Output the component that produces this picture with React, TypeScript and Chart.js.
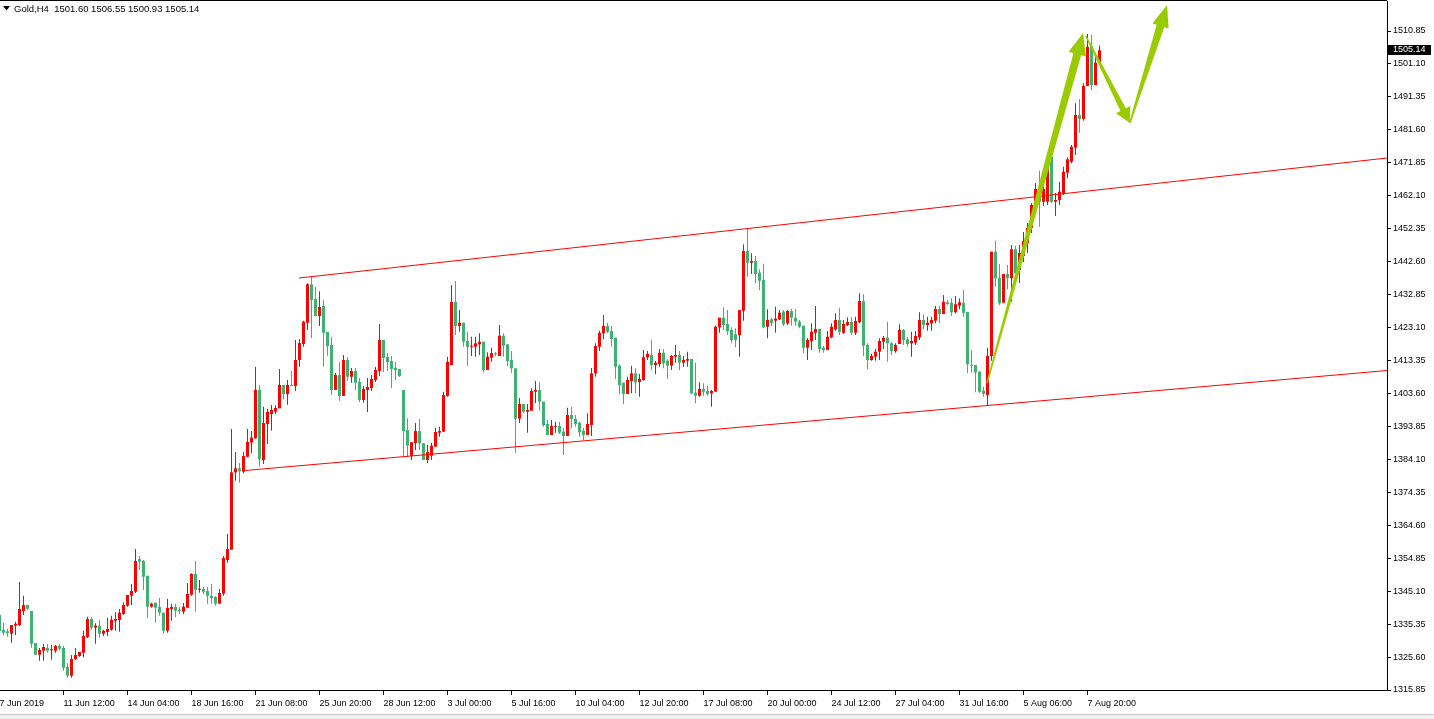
import React, { useEffect, useRef } from 'react';
import { Chart, registerables } from 'chart.js';

Chart.register(...registerables);

// ---- Candle data (H4 bars, index 0 = leftmost bar) ----
const openP = [
  1338.04, 1333.60, 1333.22, 1332.51, 1334.88, 1335.08, 1339.23, 1341.00, 1339.23, 1329.76,
  1326.30, 1327.48, 1328.28, 1327.60, 1327.48, 1328.87, 1328.28, 1322.65, 1320.08, 1325.02,
  1325.91, 1326.89, 1331.53, 1336.86, 1334.28, 1334.88, 1332.51, 1333.01, 1333.69, 1336.35,
  1336.56, 1338.34, 1340.79, 1343.75, 1344.94, 1354.61, 1354.02, 1349.67, 1340.50, 1341.69,
  1340.41, 1338.72, 1333.40, 1339.82, 1340.41, 1339.61, 1339.02, 1340.20, 1344.05, 1350.17,
  1345.53, 1345.74, 1345.14, 1343.66, 1343.37, 1341.39, 1344.35, 1354.32, 1357.36, 1380.27,
  1381.45, 1380.44, 1384.88, 1389.03, 1390.33, 1404.62, 1383.90, 1394.56, 1397.52, 1398.20,
  1399.20, 1406.10, 1403.44, 1406.10, 1405.80, 1413.50, 1418.23, 1424.53, 1435.90, 1431.55,
  1426.52, 1429.48, 1421.78, 1417.94, 1404.62, 1409.06, 1402.85, 1413.50, 1408.55, 1410.24,
  1406.99, 1401.66, 1404.62, 1405.21, 1407.58, 1410.24, 1419.41, 1414.39, 1413.20, 1411.13,
  1410.83, 1404.62, 1392.79, 1385.18, 1388.94, 1392.49, 1388.85, 1383.90, 1385.18, 1387.84,
  1391.99, 1392.28, 1402.85, 1412.02, 1430.66, 1423.56, 1424.53, 1419.12, 1417.43, 1417.43,
  1418.14, 1418.91, 1410.54, 1414.18, 1415.33, 1414.68, 1420.69, 1418.14, 1413.50, 1411.04,
  1396.13, 1400.48, 1398.20, 1398.49, 1404.12, 1404.62, 1401.16, 1394.56, 1391.30, 1393.76,
  1393.97, 1392.28, 1391.01, 1397.22, 1396.04, 1394.94, 1392.58, 1391.30, 1394.26, 1409.56,
  1417.43, 1421.40, 1423.56, 1422.08, 1420.09, 1411.81, 1406.78, 1403.44, 1407.28, 1409.56,
  1406.99, 1407.58, 1414.30, 1414.98, 1412.02, 1412.32, 1415.66, 1413.29, 1411.81, 1414.48,
  1414.98, 1412.70, 1413.29, 1413.79, 1403.82, 1402.93, 1404.92, 1404.32, 1403.64, 1404.12,
  1423.17, 1426.01, 1424.15, 1422.38, 1421.10, 1420.90, 1428.08, 1445.75, 1442.29, 1442.79,
  1439.33, 1437.17, 1423.35, 1425.54, 1425.13, 1425.54, 1427.79, 1424.36, 1427.99, 1426.01,
  1424.83, 1423.65, 1417.14, 1419.12, 1421.57, 1422.67, 1417.14, 1416.46, 1420.21, 1422.58,
  1425.33, 1421.57, 1423.85, 1424.74, 1421.57, 1424.65, 1430.96, 1417.94, 1413.50, 1414.48,
  1415.95, 1418.91, 1420.09, 1418.44, 1416.16, 1418.23, 1422.38, 1419.62, 1418.44, 1418.62,
  1420.21, 1425.33, 1423.85, 1424.36, 1425.13, 1428.59, 1427.11, 1430.57, 1430.45, 1427.61,
  1429.57, 1430.45, 1427.70, 1412.02, 1412.02, 1410.03, 1404.41, 1403.14, 1414.68, 1445.54,
  1437.85, 1430.45, 1438.95, 1437.67, 1446.25, 1440.13, 1444.27, 1448.12, 1452.55, 1458.47,
  1464.10, 1460.34, 1460.34, 1473.65, 1460.34, 1460.84, 1462.82, 1468.92, 1472.17, 1476.32,
  1485.99, 1484.81, 1494.57, 1506.41, 1494.87, 1501.60,
];
const highP = [
  1339.52, 1335.76, 1333.90, 1335.08, 1336.06, 1347.81, 1343.75, 1341.00, 1339.23, 1329.76,
  1328.28, 1329.46, 1329.46, 1329.16, 1329.16, 1329.46, 1328.87, 1323.75, 1326.21, 1328.28,
  1327.09, 1333.40, 1337.54, 1337.54, 1335.59, 1336.47, 1333.69, 1337.24, 1337.83, 1338.84,
  1339.82, 1341.80, 1343.96, 1347.21, 1357.57, 1355.50, 1354.32, 1349.67, 1341.69, 1341.69,
  1343.07, 1338.72, 1342.78, 1341.39, 1341.39, 1340.41, 1341.59, 1347.51, 1350.38, 1354.02,
  1348.40, 1346.33, 1346.33, 1347.21, 1343.66, 1345.74, 1355.50, 1362.01, 1393.08, 1386.27,
  1383.02, 1386.27, 1393.08, 1392.49, 1411.42, 1406.10, 1399.68, 1399.00, 1400.18, 1400.09,
  1410.83, 1406.10, 1407.58, 1410.24, 1419.41, 1419.71, 1425.13, 1436.19, 1438.35, 1435.09,
  1433.83, 1431.25, 1421.78, 1420.39, 1409.65, 1412.90, 1414.98, 1414.39, 1411.13, 1411.13,
  1408.17, 1405.80, 1408.17, 1409.06, 1411.42, 1424.15, 1419.41, 1415.57, 1414.68, 1412.90,
  1410.83, 1404.62, 1396.25, 1389.15, 1394.85, 1396.04, 1388.85, 1388.34, 1388.94, 1393.47,
  1393.76, 1404.12, 1414.48, 1435.69, 1436.87, 1428.29, 1424.53, 1421.87, 1420.39, 1420.39,
  1421.40, 1418.91, 1415.78, 1417.14, 1415.86, 1423.85, 1421.40, 1418.14, 1416.16, 1411.04,
  1402.25, 1400.48, 1400.48, 1405.12, 1407.28, 1406.90, 1401.16, 1395.74, 1395.74, 1395.24,
  1395.24, 1393.38, 1399.38, 1399.68, 1397.22, 1395.24, 1393.38, 1397.73, 1411.13, 1418.44,
  1422.17, 1426.81, 1424.53, 1423.56, 1420.09, 1412.22, 1406.78, 1408.55, 1411.81, 1411.04,
  1409.35, 1416.46, 1416.16, 1419.41, 1413.20, 1416.75, 1416.66, 1413.71, 1414.98, 1417.94,
  1416.25, 1414.68, 1415.95, 1413.79, 1412.70, 1406.90, 1406.60, 1405.89, 1404.62, 1423.65,
  1426.01, 1429.09, 1428.29, 1423.17, 1422.88, 1428.29, 1447.73, 1452.47, 1445.07, 1444.27,
  1440.33, 1441.81, 1428.50, 1426.01, 1429.27, 1428.29, 1428.29, 1428.29, 1428.59, 1428.59,
  1425.33, 1423.65, 1419.92, 1424.36, 1429.48, 1422.67, 1417.73, 1422.08, 1424.36, 1427.32,
  1428.97, 1425.33, 1426.13, 1426.13, 1426.31, 1433.23, 1432.94, 1418.44, 1415.27, 1416.75,
  1419.92, 1420.60, 1424.83, 1418.91, 1418.44, 1424.06, 1422.67, 1420.39, 1421.87, 1422.08,
  1427.61, 1427.02, 1426.31, 1426.31, 1429.57, 1429.57, 1432.73, 1431.25, 1431.75, 1432.43,
  1431.75, 1434.21, 1427.70, 1416.46, 1412.02, 1410.24, 1405.59, 1417.14, 1445.54, 1448.80,
  1441.90, 1438.95, 1441.61, 1447.52, 1447.23, 1447.52, 1451.37, 1454.04, 1459.95, 1465.87,
  1469.51, 1465.87, 1471.79, 1473.65, 1462.91, 1466.26, 1470.69, 1473.47, 1477.11, 1489.45,
  1490.64, 1495.37, 1509.96, 1509.66, 1503.24, 1506.55,
];
const lowP = [
  1332.12, 1332.12, 1331.62, 1329.85, 1332.12, 1334.79, 1338.04, 1339.52, 1328.37, 1326.30,
  1324.52, 1324.52, 1326.89, 1324.81, 1326.89, 1327.48, 1321.56, 1319.49, 1319.49, 1324.73,
  1325.70, 1325.52, 1331.24, 1333.69, 1329.55, 1331.33, 1331.83, 1331.83, 1333.40, 1333.40,
  1333.10, 1338.13, 1340.50, 1341.00, 1344.55, 1351.36, 1345.44, 1337.24, 1340.20, 1335.76,
  1337.83, 1332.51, 1332.80, 1336.35, 1337.36, 1338.25, 1338.25, 1340.20, 1343.75, 1339.02,
  1344.64, 1344.17, 1341.39, 1341.39, 1340.79, 1341.39, 1343.75, 1353.52, 1357.36, 1377.78,
  1377.19, 1379.97, 1384.70, 1385.89, 1390.21, 1381.92, 1382.72, 1388.64, 1392.58, 1397.52,
  1399.20, 1401.87, 1400.27, 1405.80, 1404.32, 1411.51, 1417.43, 1422.38, 1420.01, 1426.52,
  1423.56, 1411.51, 1414.77, 1403.14, 1404.62, 1401.45, 1402.85, 1407.37, 1406.78, 1404.62,
  1401.07, 1400.87, 1398.11, 1404.32, 1406.99, 1408.76, 1409.95, 1410.24, 1405.21, 1407.58,
  1408.47, 1384.79, 1384.88, 1383.90, 1386.87, 1386.87, 1383.90, 1383.02, 1383.90, 1387.84,
  1390.80, 1392.28, 1402.64, 1412.02, 1420.90, 1421.87, 1417.43, 1411.72, 1414.68, 1414.48,
  1414.98, 1409.74, 1410.54, 1412.99, 1414.68, 1414.68, 1414.48, 1411.72, 1409.74, 1386.07,
  1394.85, 1397.73, 1391.99, 1398.49, 1400.77, 1398.49, 1393.76, 1391.30, 1391.30, 1391.99,
  1391.60, 1385.39, 1391.01, 1393.29, 1393.76, 1390.80, 1389.82, 1391.30, 1391.01, 1408.55,
  1416.16, 1419.62, 1421.40, 1417.43, 1407.87, 1403.35, 1400.48, 1403.44, 1403.64, 1403.64,
  1402.64, 1407.37, 1413.50, 1410.54, 1409.27, 1411.51, 1411.04, 1407.87, 1410.54, 1412.70,
  1410.54, 1411.51, 1411.51, 1403.35, 1400.69, 1402.64, 1402.93, 1402.93, 1399.68, 1404.12,
  1421.57, 1422.38, 1420.90, 1418.44, 1417.25, 1414.48, 1425.13, 1438.14, 1438.95, 1436.19,
  1434.21, 1422.88, 1419.92, 1423.56, 1421.57, 1425.33, 1423.56, 1423.85, 1423.65, 1423.65,
  1422.88, 1415.48, 1413.50, 1416.46, 1419.41, 1415.66, 1415.66, 1416.46, 1419.92, 1422.17,
  1420.90, 1421.19, 1423.56, 1420.90, 1420.90, 1424.36, 1414.68, 1410.74, 1413.29, 1413.29,
  1413.50, 1416.75, 1412.99, 1414.98, 1415.66, 1418.23, 1417.94, 1417.43, 1414.48, 1417.94,
  1419.41, 1422.58, 1422.17, 1422.17, 1424.36, 1424.36, 1427.11, 1429.77, 1426.52, 1427.32,
  1428.50, 1426.31, 1409.65, 1409.74, 1403.94, 1403.64, 1402.64, 1400.18, 1413.29, 1435.19,
  1429.77, 1430.45, 1434.42, 1430.75, 1439.15, 1436.28, 1442.49, 1445.16, 1451.08, 1457.29,
  1452.94, 1459.06, 1459.36, 1459.95, 1456.11, 1459.36, 1462.32, 1467.26, 1471.70, 1474.16,
  1480.75, 1484.31, 1494.57, 1493.39, 1494.87, 1500.93,
];
const closeP = [
  1333.31, 1332.80, 1332.63, 1335.08, 1335.47, 1339.82, 1341.00, 1339.91, 1329.55, 1326.30,
  1327.68, 1328.57, 1327.48, 1327.89, 1328.87, 1328.07, 1322.45, 1320.08, 1325.02, 1326.21,
  1327.09, 1331.83, 1336.86, 1334.28, 1334.88, 1332.51, 1333.40, 1333.90, 1336.65, 1336.86,
  1338.72, 1341.00, 1343.96, 1345.14, 1354.02, 1353.81, 1349.37, 1340.50, 1341.39, 1340.20,
  1338.72, 1333.40, 1340.11, 1340.41, 1339.32, 1339.14, 1340.50, 1344.26, 1350.17, 1345.53,
  1345.74, 1344.94, 1343.75, 1343.07, 1341.39, 1344.55, 1354.91, 1357.57, 1380.27, 1381.45,
  1380.56, 1385.09, 1389.23, 1390.51, 1404.62, 1384.11, 1394.85, 1398.11, 1398.70, 1399.29,
  1406.10, 1403.44, 1406.10, 1405.80, 1413.50, 1418.53, 1424.83, 1435.90, 1431.25, 1426.52,
  1429.18, 1421.57, 1417.64, 1404.62, 1409.06, 1402.85, 1413.50, 1408.55, 1410.24, 1406.78,
  1401.66, 1404.92, 1405.51, 1407.87, 1410.54, 1419.41, 1414.09, 1412.90, 1410.83, 1410.54,
  1408.76, 1392.49, 1388.14, 1389.15, 1392.49, 1388.85, 1383.90, 1386.27, 1388.14, 1392.19,
  1392.49, 1403.14, 1412.90, 1430.66, 1423.56, 1424.53, 1418.91, 1417.43, 1417.73, 1418.44,
  1418.91, 1410.54, 1414.48, 1415.57, 1415.21, 1420.69, 1417.73, 1413.20, 1411.04, 1396.13,
  1400.48, 1398.20, 1398.70, 1404.32, 1404.62, 1401.16, 1394.26, 1391.30, 1393.97, 1394.06,
  1391.99, 1391.01, 1397.22, 1396.04, 1394.56, 1392.10, 1391.30, 1394.56, 1409.56, 1417.64,
  1421.57, 1423.56, 1421.87, 1419.71, 1411.51, 1406.10, 1403.44, 1407.58, 1409.56, 1406.90,
  1407.87, 1414.30, 1415.27, 1412.02, 1412.70, 1415.66, 1412.52, 1411.81, 1414.68, 1414.98,
  1412.70, 1413.50, 1413.79, 1403.64, 1402.93, 1404.92, 1404.12, 1403.44, 1404.32, 1423.35,
  1426.01, 1423.85, 1422.08, 1419.41, 1419.41, 1428.29, 1445.75, 1442.29, 1442.79, 1438.95,
  1436.96, 1423.17, 1425.33, 1424.36, 1425.72, 1427.49, 1424.06, 1427.99, 1426.01, 1424.83,
  1423.35, 1417.14, 1419.41, 1421.87, 1422.67, 1416.75, 1416.46, 1420.39, 1423.35, 1425.33,
  1421.87, 1424.15, 1424.74, 1421.57, 1425.04, 1430.96, 1417.73, 1413.50, 1414.68, 1415.95,
  1419.12, 1420.09, 1418.44, 1416.16, 1417.94, 1422.38, 1419.41, 1418.23, 1419.12, 1420.60,
  1425.33, 1423.85, 1424.53, 1425.33, 1428.59, 1427.11, 1430.75, 1430.07, 1427.61, 1429.98,
  1430.57, 1427.49, 1412.22, 1411.81, 1409.86, 1404.12, 1403.44, 1414.68, 1445.54, 1437.67,
  1430.27, 1438.95, 1437.67, 1446.25, 1439.15, 1445.16, 1448.71, 1452.55, 1459.36, 1464.10,
  1460.34, 1464.10, 1470.31, 1460.34, 1460.84, 1463.30, 1469.21, 1472.88, 1476.61, 1485.99,
  1484.81, 1494.57, 1506.20, 1494.87, 1501.47, 1505.14,
];

// ---- Axis ticks ----
const xTickBars = [0, 16, 32, 48, 64, 80, 96, 112, 128, 144, 160, 176, 192, 208, 224, 240, 256, 272];
const xTickLabels = [
  '7 Jun 2019', '11 Jun 12:00', '14 Jun 04:00', '18 Jun 16:00', '21 Jun 08:00', '25 Jun 20:00',
  '28 Jun 12:00', '3 Jul 00:00', '5 Jul 16:00', '10 Jul 04:00', '12 Jul 20:00', '17 Jul 08:00',
  '20 Jul 00:00', '24 Jul 12:00', '27 Jul 04:00', '31 Jul 16:00', '5 Aug 06:00', '7 Aug 20:00',
];
const yTickValues = [
  1315.85, 1325.60, 1335.35, 1345.10, 1354.85, 1364.60, 1374.35, 1384.10, 1393.85, 1403.60,
  1413.35, 1423.10, 1432.85, 1442.60, 1452.35, 1462.10, 1471.85, 1481.60, 1491.35, 1501.10, 1510.85,
];

const titleText = 'Gold,H4  1501.60 1506.55 1500.93 1505.14';
const lastPrice = 1505.14;

// ---- Drawn objects (bar index, price) ----
const upperChannel = [ { x: 74.9, y: 1437.76 }, { x: 346.9, y: 1473.27 } ];
const lowerChannel = [ { x: 61.4, y: 1380.80 }, { x: 346.9, y: 1410.39 } ];
const arrowFrom = [ [246.9, 1406.70], [271.6, 1509.37], [282.6, 1483.63] ];
const arrowTo = [ [270.9, 1510.26], [282.6, 1483.63], [291.9, 1518.54] ];

const BULL = '#ff0000';
const BEAR = '#3cb371';
const ARROW = '#99cc00';
const FONT = 'Liberation Sans';

const arrowShapes = [
  { tailW: 1.5, shaftW: 8, headW: 18, headL: 22 },
  { tailW: 1.5, shaftW: 6, headW: 16, headL: 15 },
  { tailW: 1.5, shaftW: 8, headW: 17, headL: 22 },
];

function drawArrow(ctx: CanvasRenderingContext2D, x0: number, y0: number, x1: number, y1: number,
  s: { tailW: number; shaftW: number; headW: number; headL: number }) {
  const dx = x1 - x0, dy = y1 - y0;
  const len = Math.hypot(dx, dy);
  const ux = dx / len, uy = dy / len;
  const nx = -uy, ny = ux;
  const bx = x1 - ux * s.headL, by = y1 - uy * s.headL;
  ctx.beginPath();
  ctx.moveTo(x0 + nx * s.tailW / 2, y0 + ny * s.tailW / 2);
  ctx.lineTo(bx + nx * s.shaftW / 2, by + ny * s.shaftW / 2);
  ctx.lineTo(bx + nx * s.headW / 2, by + ny * s.headW / 2);
  ctx.lineTo(x1, y1);
  ctx.lineTo(bx - nx * s.headW / 2, by - ny * s.headW / 2);
  ctx.lineTo(bx - nx * s.shaftW / 2, by - ny * s.shaftW / 2);
  ctx.lineTo(x0 - nx * s.tailW / 2, y0 - ny * s.tailW / 2);
  ctx.closePath();
  ctx.fill();
}

const decorPlugin = {
  id: 'decor',
  afterDatasetsDraw(chart: any) {
    const { ctx, chartArea, scales } = chart;
    const xs = scales.x, ys = scales.y;
    ctx.save();
    ctx.beginPath();
    ctx.rect(chartArea.left, chartArea.top - 1, chartArea.right - chartArea.left, chartArea.bottom - chartArea.top + 1);
    ctx.clip();
    ctx.fillStyle = ARROW;
    arrowFrom.forEach((f, i) => {
      const t = arrowTo[i];
      drawArrow(ctx, xs.getPixelForValue(f[0]), ys.getPixelForValue(f[1]),
        xs.getPixelForValue(t[0]), ys.getPixelForValue(t[1]), arrowShapes[i]);
    });
    ctx.restore();
  },
  afterDraw(chart: any) {
    const { ctx, chartArea, scales, width, height } = chart;
    const ys = scales.y;
    ctx.save();
    // bottom status strip
    ctx.fillStyle = '#f0f0f0';
    ctx.fillRect(0, height - 4, width, 4);
    ctx.fillStyle = '#c8c8c8';
    ctx.fillRect(0, height - 5, width, 1);
    // top frame line
    ctx.fillStyle = '#000';
    ctx.fillRect(0, 0, chartArea.right, 1);
    // title
    ctx.beginPath();
    ctx.moveTo(3, 6);
    ctx.lineTo(10, 6);
    ctx.lineTo(6.5, 10.5);
    ctx.closePath();
    ctx.fill();
    ctx.font = `9.5px "${FONT}"`;
    ctx.textBaseline = 'middle';
    ctx.textAlign = 'left';
    ctx.fillText(titleText, 14, 9);
    // current price label
    ctx.font = `9px "${FONT}"`;
    const py = Math.round(ys.getPixelForValue(lastPrice));
    ctx.fillStyle = '#000';
    ctx.fillRect(chartArea.right + 1, py - 5, width - chartArea.right - 4, 10);
    ctx.fillStyle = '#fff';
    ctx.fillText(lastPrice.toFixed(2), chartArea.right + 6, py);
    ctx.restore();
  },
};

export default function App() {
  const ref = useRef<HTMLCanvasElement | null>(null);
  useEffect(() => {
    if (!ref.current) return;
    const colors = closeP.map((c, i) => (c >= openP[i] ? BULL : BEAR));
    const wickData = lowP.map((l, i) => ({ x: i, y: [l, highP[i]] }));
    const bodyData = openP.map((o, i) => ({ x: i, y: [o, closeP[i]] }));
    const chart = new Chart(ref.current, {
      type: 'bar',
      data: {
        datasets: [
          {
            type: 'line',
            data: upperChannel,
            borderColor: BULL,
            borderWidth: 1,
            pointRadius: 0,
            order: 1,
          } as any,
          {
            type: 'line',
            data: lowerChannel,
            borderColor: BULL,
            borderWidth: 1,
            pointRadius: 0,
            order: 1,
          } as any,
          {
            data: wickData as any,
            backgroundColor: colors,
            barThickness: 1,
            grouped: false,
            borderWidth: 0,
            inflateAmount: 0,
            order: 3,
          } as any,
          {
            data: bodyData as any,
            backgroundColor: colors,
            barThickness: 3,
            minBarLength: 1,
            grouped: false,
            borderWidth: 0,
            inflateAmount: 0,
            order: 2,
          } as any,
        ],
      },
      options: {
        responsive: false,
        animation: false,
        devicePixelRatio: 1,
        layout: { padding: { top: 1, left: 0, right: 0, bottom: 0 } },
        plugins: { legend: { display: false }, tooltip: { enabled: false } },
        scales: {
          x: {
            type: 'linear',
            min: 0.125,
            max: 346.875,
            offset: false,
            afterFit: (s: any) => { s.height = 29; s.paddingLeft = 0; s.paddingRight = 0; },
            afterBuildTicks: (s: any) => { s.ticks = xTickBars.map((v) => ({ value: v })); },
            grid: { drawOnChartArea: false, drawTicks: true, tickLength: 5, color: '#000', offset: false },
            border: { display: true, color: '#000', width: 1 },
            ticks: {
              autoSkip: false,
              maxRotation: 0,
              minRotation: 0,
              align: 'start',
              padding: 3,
              color: '#000',
              font: { family: FONT, size: 9 },
              callback: (v: any) => {
                const idx = xTickBars.indexOf(Number(v));
                return idx >= 0 ? xTickLabels[idx] : '';
              },
            },
          },
          y: {
            type: 'linear',
            position: 'right',
            min: 1315.85,
            max: 1519.73,
            afterFit: (s: any) => { s.width = 47; s.paddingTop = 0; s.paddingBottom = 0; },
            afterBuildTicks: (s: any) => { s.ticks = yTickValues.map((v) => ({ value: v })); },
            grid: { drawOnChartArea: false, drawTicks: true, tickLength: 4, color: '#000' },
            border: { display: true, color: '#000', width: 1 },
            ticks: {
              autoSkip: false,
              padding: 2,
              color: '#000',
              font: { family: FONT, size: 9 },
              callback: (v: any) => Number(v).toFixed(2),
            },
          },
        },
      } as any,
      plugins: [decorPlugin],
    });
    return () => chart.destroy();
  }, []);
  return (
    <div style={{ position: 'fixed', left: 0, top: 0, width: 1434, height: 719, background: '#fff' }}>
      <canvas ref={ref} width={1434} height={719} style={{ display: 'block', width: 1434, height: 719 }} />
    </div>
  );
}
